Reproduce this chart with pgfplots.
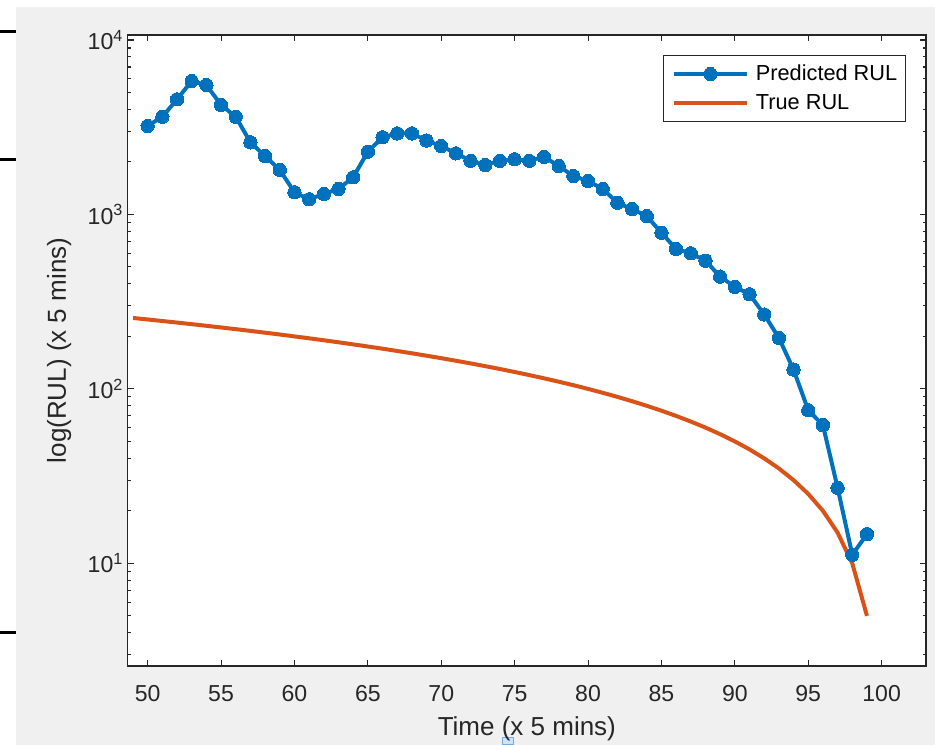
\documentclass[border=0pt]{standalone}
\usepackage{pgfplots}
\pgfplotsset{compat=1.18}
\usepackage{fontspec}
\setmainfont{Liberation Sans}
\definecolor{mblue}{rgb}{0,0.447,0.741}
\definecolor{morange}{rgb}{0.850,0.325,0.098}
\definecolor{mgray}{HTML}{F0F0F0}
\definecolor{maxis}{rgb}{0.15,0.15,0.15}
\begin{document}
\begin{tikzpicture}[x=0.75pt,y=0.75pt]
\useasboundingbox (0,0) rectangle (935,745);
\fill[white] (0,0) rectangle (935,745);
\fill[mgray] (16,0) rectangle (935,738);
\foreach \yy in {31.7,159.3,632.3} \draw[black,line width=2.5pt] (0,745-\yy) -- (16,745-\yy);
\draw[color={rgb,255:red,120;green,170;blue,220}, fill={rgb,255:red,205;green,228;blue,247}, line width=0.75pt] (502,0) rectangle (513,7);
\begin{axis}[
  at={(95.775pt,59.25pt)}, anchor=south west,
  scale only axis, width=598.7pt, height=473.25pt,
  axis background/.style={fill=white},
  ymode=log, log basis y=10,
  xmin=48.64, xmax=103.02, ymin=2.58, ymax=10683,
  axis line style={maxis, line width=0.8pt},
  every tick/.style={maxis, line width=0.8pt},
  tick align=inside,
  major tick length=4.5pt, minor tick length=2.6pt,
  xtick={50,55,60,65,70,75,80,85,90,95,100},
  ytick={10,100,1000,10000},
  yticklabels={10\textsuperscript{1},10\textsuperscript{2},10\textsuperscript{3},10\textsuperscript{4}},
  minor ytick={3,4,5,6,7,8,9,20,30,40,50,60,70,80,90,200,300,400,500,600,700,800,900,2000,3000,4000,5000,6000,7000,8000,9000},
  tick label style={font=\fontsize{17.3}{20}\selectfont, text=maxis},
  xticklabel style={yshift=-11pt},
  /pgf/number format/assume math mode=true,
  xlabel={Time (x 5 mins)}, ylabel={log(RUL) (x 5 mins)},
  label style={font=\fontsize{19.5}{23}\selectfont, text=maxis},
  xlabel style={at={(axis description cs:0.5,-0.1094)}, anchor=base},
  ylabel style={at={(axis description cs:-0.0773,0.5)}, anchor=base},
  legend cell align=left,
  legend style={at={(0.975,0.9683)}, anchor=north east, draw=maxis, line width=0.75pt, fill=white,
    inner xsep=6.2pt, inner ysep=7.1pt, row sep=8.15pt, column sep=5.25pt,
    font=\fontsize{16.3}{19}\selectfont,
    nodes={inner sep=0pt, text height=12pt, text depth=1.6pt, anchor=west, text=black}},
  legend image code/.code={\draw[mark repeat=2,mark phase=2,#1] plot coordinates {(0pt,0pt) (27.375pt,0pt) (54.75pt,0pt)};},
]
\addplot[mblue, line width=3pt, mark=*, mark size=5pt, mark options={solid, fill=mblue, draw=mblue, line width=0pt}] coordinates {
(50,3215) (51,3630) (52,4570) (53,5820) (54,5520) (55,4240) (56,3630) (57,2590) (58,2160) (59,1800)
(60,1340) (61,1222) (62,1310) (63,1400) (64,1633) (65,2290) (66,2770) (67,2915) (68,2915) (69,2650)
(70,2466) (71,2240) (72,2030) (73,1920) (74,2030) (75,2070) (76,2030) (77,2140) (78,1897) (79,1660)
(80,1555) (81,1400) (82,1167) (83,1073) (84,979) (85,785) (86,634) (87,599) (88,543) (89,440)
(90,385) (91,349) (92,267) (93,196) (94,129) (95,75.5) (96,62) (97,27.1) (98,11.2) (99,14.7)
};
\addlegendentry{Predicted RUL}
\addplot[morange, line width=3pt] coordinates {
(49,255) (50,250) (51,245) (52,240) (53,235) (54,230) (55,225) (56,220) (57,215) (58,210) (59,205)
(60,200) (61,195) (62,190) (63,185) (64,180) (65,175) (66,170) (67,165) (68,160) (69,155)
(70,150) (71,145) (72,140) (73,135) (74,130) (75,125) (76,120) (77,115) (78,110) (79,105)
(80,100) (81,95) (82,90) (83,85) (84,80) (85,75) (86,70) (87,65) (88,60) (89,55)
(90,50) (91,45) (92,40) (93,35) (94,30) (95,25) (96,20) (97,15) (98,10) (99,5)
};
\addlegendentry{True RUL}
\end{axis}
\end{tikzpicture}
\end{document}
